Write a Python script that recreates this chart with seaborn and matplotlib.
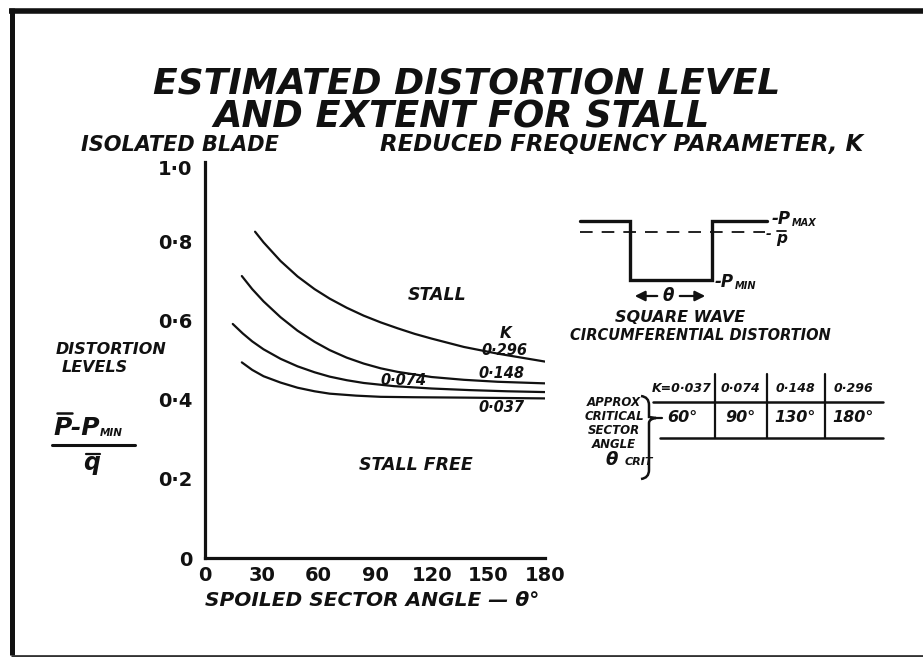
import numpy as np
import pandas as pd
import matplotlib
matplotlib.use("Agg")
import matplotlib.pyplot as plt
from matplotlib.path import Path
from matplotlib.patches import PathPatch
from matplotlib.transforms import ScaledTranslation
import seaborn as sns

# ---- data -------------------------------------------------------------
k_labels = ["0·296", "0·148", "0·074", "0·037"]

theta_296 = [26.5, 31, 40, 49, 58, 66, 75, 84, 93, 102, 111, 120, 137, 155, 180]
level_296 = [0.824, 0.797, 0.750, 0.711, 0.679, 0.655, 0.632, 0.612, 0.595,
             0.580, 0.566, 0.554, 0.533, 0.516, 0.496]

theta_148 = [19.5, 25, 31, 40, 49, 58, 66, 75, 84, 93, 102, 120, 137, 155, 180]
level_148 = [0.712, 0.679, 0.648, 0.608, 0.574, 0.546, 0.525, 0.506, 0.491,
             0.479, 0.470, 0.457, 0.450, 0.445, 0.441]

theta_074 = [14.7, 20, 25, 31, 40, 49, 58, 66, 75, 84, 100, 120, 140, 160, 180]
level_074 = [0.591, 0.567, 0.547, 0.527, 0.503, 0.484, 0.469, 0.458, 0.449,
             0.442, 0.434, 0.428, 0.424, 0.421, 0.419]

theta_037 = [19.5, 25, 31, 40, 49, 58, 66, 80, 93, 110, 137, 160, 180]
level_037 = [0.494, 0.475, 0.459, 0.443, 0.430, 0.421, 0.415, 0.410, 0.407,
             0.406, 0.405, 0.404, 0.403]

x_ticks = [0, 30, 60, 90, 120, 150, 180]
y_ticks = [0, 0.2, 0.4, 0.6, 0.8, 1.0]
y_tick_labels = ["0", "0·2", "0·4", "0·6", "0·8", "1·0"]

table_k = ["K=0·037", "0·074", "0·148", "0·296"]
crit_angle = [60, 90, 130, 180]

# ---- style ------------------------------------------------------------
sns.set_theme(style="white")
plt.rcParams["font.family"] = ["DejaVu Sans"]
INK = "#111111"

W, H = 923, 657
fig = plt.figure(figsize=(W / 100, H / 100), dpi=100)
fig.patch.set_facecolor("white")

def fx(px):
    return px / W

def fy(py):
    return 1 - py / H

# ---- main chart -------------------------------------------------------
ax = fig.add_axes([fx(205), fy(558), (545 - 205) / W, (558 - 162) / H])
ax.set_facecolor("none")

frames = []
for lab, th, lv in [(k_labels[0], theta_296, level_296),
                    (k_labels[1], theta_148, level_148),
                    (k_labels[2], theta_074, level_074),
                    (k_labels[3], theta_037, level_037)]:
    frames.append(pd.DataFrame({"theta": th, "level": lv, "K": lab}))
df = pd.concat(frames, ignore_index=True)

sns.lineplot(data=df, x="theta", y="level", hue="K", palette=[INK] * 4,
             estimator=None, sort=False, legend=False, linewidth=1.6, ax=ax)

ax.set_xlim(0, 180)
ax.set_ylim(0, 1.0)
ax.set_xticks(x_ticks)
ax.set_xticklabels([str(v) for v in x_ticks])
ax.set_yticks(y_ticks)
ax.set_yticklabels(y_tick_labels)
for s in ["top", "right"]:
    ax.spines[s].set_visible(False)
for s in ["left", "bottom"]:
    ax.spines[s].set_color(INK)
    ax.spines[s].set_linewidth(2.3)
ax.tick_params(axis="both", direction="in", length=5, width=1.4, color=INK,
               labelcolor=INK)
ax.tick_params(axis="y", pad=9)
ax.tick_params(axis="x", pad=6)
for t in ax.get_xticklabels() + ax.get_yticklabels():
    t.set_fontsize(14)
    t.set_fontweight("bold")
# the top label sits a little below the axis end
top_lab = ax.get_yticklabels()[-1]
top_lab.set_transform(top_lab.get_transform()
                      + ScaledTranslation(0, -4 / 72, fig.dpi_scale_trans))
ax.set_xlabel("")
ax.set_ylabel("")

txt = dict(color=INK, fontweight="bold", fontstyle="oblique")
ax.text(123, 0.664, "STALL", fontsize=12.5, ha="center", va="center", **txt)
ax.text(111.5, 0.235, "STALL FREE", fontsize=12.5, ha="center", va="center", **txt)
ax.text(159.3, 0.568, "K", fontsize=11, ha="center", va="center", **txt)
ax.text(158.3, 0.525, k_labels[0], fontsize=10.5, ha="center", va="center", **txt)
ax.text(156.7, 0.467, k_labels[1], fontsize=10.5, ha="center", va="center", **txt)
ax.text(105.2, 0.449, k_labels[2], fontsize=10.5, ha="center", va="center", **txt)
ax.text(156.7, 0.379, k_labels[3], fontsize=10.5, ha="center", va="center", **txt)

# ---- overlay in pixel space for titles, schematic and table -----------
ov = fig.add_axes([0, 0, 1, 1])
ov.set_xlim(0, W)
ov.set_ylim(H, 0)
ov.axis("off")
ov.set_facecolor("none")

# slide frame
ov.plot([9, W], [10.5, 10.5], color=INK, lw=4.0, solid_capstyle="butt")
ov.plot([11.5, 11.5], [8, 655], color=INK, lw=3.6, solid_capstyle="butt")
ov.plot([11, W], [655.5, 655.5], color="#333333", lw=2.0, solid_capstyle="butt")

# titles
ov.text(467, 83, "ESTIMATED DISTORTION LEVEL", fontsize=26, ha="center", va="center", **txt)
ov.text(462, 117, "AND EXTENT FOR STALL", fontsize=26.5, ha="center", va="center", **txt)
ov.text(180, 145, "ISOLATED BLADE", fontsize=15, ha="center", va="center", **txt)
ov.text(622, 145, "REDUCED FREQUENCY PARAMETER, K", fontsize=16.5, ha="center", va="center", **txt)

# axis titles
ov.text(372, 600, "SPOILED SECTOR ANGLE — θ°", fontsize=14.5, ha="center", va="center", **txt)
ov.text(56, 350, "DISTORTION", fontsize=11.5, ha="left", va="center", **txt)
ov.text(62, 368, "LEVELS", fontsize=11.5, ha="left", va="center", **txt)
pp = ov.text(53, 428, "P-P", fontsize=18, ha="left", va="center", **txt)
ov.plot([57, 72], [413, 413], color=INK, lw=1.8)
ov.annotate("MIN", xy=(1, 0.08), xycoords=pp, fontsize=7.5, ha="left",
            va="bottom", **txt)
ov.plot([52, 135], [445, 445], color=INK, lw=2.2)
ov.text(92, 463, "q", fontsize=17, ha="center", va="center", **txt)
ov.plot([86, 100], [454, 454], color=INK, lw=1.6)

# square wave schematic
ov.plot([580, 630, 630, 712, 712, 767], [221, 221, 280, 280, 221, 221],
        color=INK, lw=2.4, solid_joinstyle="miter")
ov.plot([580, 765], [232, 232], color=INK, lw=1.3, dashes=(7, 5))
ov.text(772, 219, "-P", fontsize=12, ha="left", va="center", **txt)
ov.text(792, 223, "MAX", fontsize=7, ha="left", va="center", **txt)
ov.text(766, 234, "-", fontsize=10, ha="left", va="center", **txt)
ov.text(776, 238, "p", fontsize=11, ha="left", va="center", **txt)
ov.plot([777, 786], [231, 231], color=INK, lw=1.3)
ov.text(715, 282, "-P", fontsize=12, ha="left", va="center", **txt)
ov.text(735, 286, "MIN", fontsize=7, ha="left", va="center", **txt)
ov.text(668, 296, "θ", fontsize=12, ha="center", va="center", **txt)
arrow = dict(arrowstyle="-|>,head_length=0.5,head_width=0.25", color=INK, lw=1.6)
ov.annotate("", xy=(632, 296), xytext=(660, 296), arrowprops=arrow)
ov.annotate("", xy=(708, 296), xytext=(677, 296), arrowprops=arrow)
ov.text(680, 317, "SQUARE WAVE", fontsize=11.5, ha="center", va="center", **txt)
ov.text(700, 335, "CIRCUMFERENTIAL DISTORTION", fontsize=10.5, ha="center", va="center", **txt)

# critical sector angle table
col_x = [682, 740, 795, 853]
for cx, kl, ang in zip(col_x, table_k, crit_angle):
    ov.text(cx, 388, kl, fontsize=9, ha="center", va="center", **txt)
    ov.text(cx, 418, f"{ang}°", fontsize=11.5, ha="center", va="center", **txt)
ov.plot([653, 883], [402, 402], color=INK, lw=1.8)
ov.plot([660, 883], [438, 438], color=INK, lw=1.8)
for vx in [715, 767, 825]:
    ov.plot([vx, vx], [374, 438], color=INK, lw=1.6)

for i, line in enumerate(["APPROX", "CRITICAL", "SECTOR", "ANGLE"]):
    ov.text(614, 402 + i * 14, line, fontsize=8.5, ha="center", va="center", **txt)
ov.text(612, 460, "θ", fontsize=13, ha="center", va="center", **txt)
ov.text(625, 462, "CRIT", fontsize=8, ha="left", va="center", **txt)

brace = Path([(641, 396), (649, 397), (649, 405), (649, 410), (649, 413),
              (649, 417), (656, 418), (649, 419), (649, 423), (649, 470),
              (649, 478), (641, 479)],
             [Path.MOVETO, Path.CURVE3, Path.CURVE3, Path.LINETO, Path.CURVE3,
              Path.CURVE3, Path.LINETO, Path.CURVE3, Path.CURVE3, Path.LINETO,
              Path.CURVE3, Path.CURVE3])
ov.add_patch(PathPatch(brace, fill=False, edgecolor=INK, lw=1.8))
ov.plot([656, 662], [418, 418], color=INK, lw=1.6)

fig.savefig("out.png", dpi=100, facecolor="white")
